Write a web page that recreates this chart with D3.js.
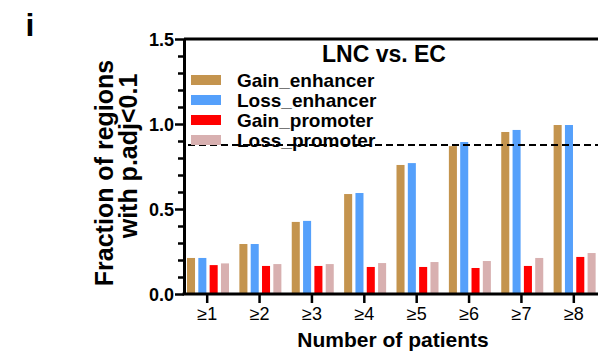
<!DOCTYPE html>
<html lang="en">
<head>
	<meta charset="UTF-8">
	<title>LNC vs. EC</title>
	<script src="https://d3js.org/d3.v7.min.js"></script>
	<style>
		body{
			margin: 0;
			background: white;
		}
		svg text{
			font-family: "Liberation Sans", Arial, sans-serif;
			fill: black;
		}
	</style>
</head>
<body>
	<div id="chart"></div>
	<script>
		// data
		const categories=["≥1","≥2","≥3","≥4","≥5","≥6","≥7","≥8"];
		const series=["Gain_enhancer","Loss_enhancer","Gain_promoter","Loss_promoter"];
		const gainEnhancer=[0.212,0.294,0.424,0.588,0.759,0.870,0.953,0.994];
		const lossEnhancer=[0.212,0.294,0.430,0.594,0.770,0.894,0.965,0.994];
		const gainPromoter=[0.170,0.165,0.165,0.159,0.159,0.153,0.165,0.218];
		const lossPromoter=[0.180,0.176,0.176,0.182,0.188,0.194,0.212,0.241];
		const yTicks=[0,0.5,1.0,1.5];
		const threshold=0.876;

		const colors=["#c4944e","#55a0fb","#ff0000","#d8b0b0"];
		const values=[gainEnhancer,lossEnhancer,gainPromoter,lossPromoter];

		const width=598, height=351;
		const mLeft=184, mTop=39, mBottom=294, mRight=600;

		const svg=d3.select('#chart').append('svg')
			.attr('width',width).attr('height',height);

		const y=d3.scaleLinear().domain([0,1.5]).range([mBottom,mTop]);
		const x=d3.scaleBand().domain(categories).range([181,mRight]);
		const sub=d3.scaleBand().domain(series).range([6,48]).paddingInner(0.29);

		// bars
		const rows=[];
		categories.forEach((c,i)=>{
			series.forEach((s,j)=>rows.push({cat:c,ser:s,value:values[j][i],color:colors[j]}));
		});
		svg.append('g').selectAll('rect').data(rows).enter().append('rect')
			.attr('x',d=>x(d.cat)+sub(d.ser))
			.attr('y',d=>y(d.value))
			.attr('width',sub.bandwidth())
			.attr('height',d=>y(0)-y(d.value))
			.attr('fill',d=>d.color);

		// dashed threshold
		svg.append('line')
			.attr('x1',mLeft+4).attr('x2',width)
			.attr('y1',y(threshold)).attr('y2',y(threshold))
			.attr('stroke','black').attr('stroke-width',2)
			.attr('stroke-dasharray','7,4');

		// y axis with minor ticks
		const minor=d3.range(0,16).map(d=>d/10).filter(d=>Math.abs(d*2-Math.round(d*2))>0.01);
		const yMinor=svg.append('g').attr('transform',`translate(${mLeft},0)`)
			.call(d3.axisLeft(y).tickValues(minor).tickSize(6).tickFormat(''));
		yMinor.select('.domain').remove();
		yMinor.selectAll('line').attr('stroke-width',2.5);

		const yAxis=svg.append('g').attr('transform',`translate(${mLeft},0)`)
			.call(d3.axisLeft(y).tickValues(yTicks).tickSize(9).tickSizeOuter(0).tickPadding(1).tickFormat(d3.format('.1f')));
		yAxis.select('.domain').attr('stroke-width',3);
		yAxis.selectAll('line').attr('stroke-width',2.5);
		yAxis.selectAll('text').attr('font-size',18).attr('font-weight','bold').attr('dy','0.35em');

		// top frame line
		svg.append('line').attr('x1',mLeft).attr('x2',width)
			.attr('y1',mTop).attr('y2',mTop)
			.attr('stroke','black').attr('stroke-width',3);

		// x axis
		const xAxis=svg.append('g').attr('transform',`translate(0,${mBottom})`)
			.call(d3.axisBottom(x).tickSize(9).tickSizeOuter(0).tickPadding(4));
		xAxis.select('.domain').attr('stroke-width',3).attr('d',`M${mLeft-1.5},0H${width}`);
		xAxis.selectAll('line').attr('stroke-width',2.5);
		xAxis.selectAll('text').attr('font-size',18);

		// legend
		const leg=svg.append('g').selectAll('g').data(series).enter().append('g')
			.attr('transform',(d,i)=>`translate(191,${75+i*20})`);
		leg.append('rect').attr('width',30).attr('height',10)
			.attr('fill',(d,i)=>colors[i]);
		leg.append('text').attr('x',46).attr('y',12)
			.attr('font-size',19).attr('font-weight','bold')
			.text(d=>d);

		// title and labels
		svg.append('text').attr('x',384).attr('y',62).attr('text-anchor','middle')
			.attr('font-size',23).attr('font-weight','bold').text('LNC vs. EC');
		svg.append('text').attr('x',30).attr('y',36).attr('text-anchor','middle')
			.attr('font-size',32).attr('font-weight','bold').text('i');
		svg.append('text').attr('x',393).attr('y',347).attr('text-anchor','middle')
			.attr('font-size',21).attr('font-weight','bold').text('Number of patients');
		svg.append('text').attr('transform','translate(113,173) rotate(-90)')
			.attr('text-anchor','middle').attr('font-size',25).attr('font-weight','bold')
			.text('Fraction of regions');
		svg.append('text').attr('transform','translate(137,156) rotate(-90)')
			.attr('text-anchor','middle').attr('font-size',25).attr('font-weight','bold')
			.text('with p.adj<0.1');
	</script>
</body>
</html>
